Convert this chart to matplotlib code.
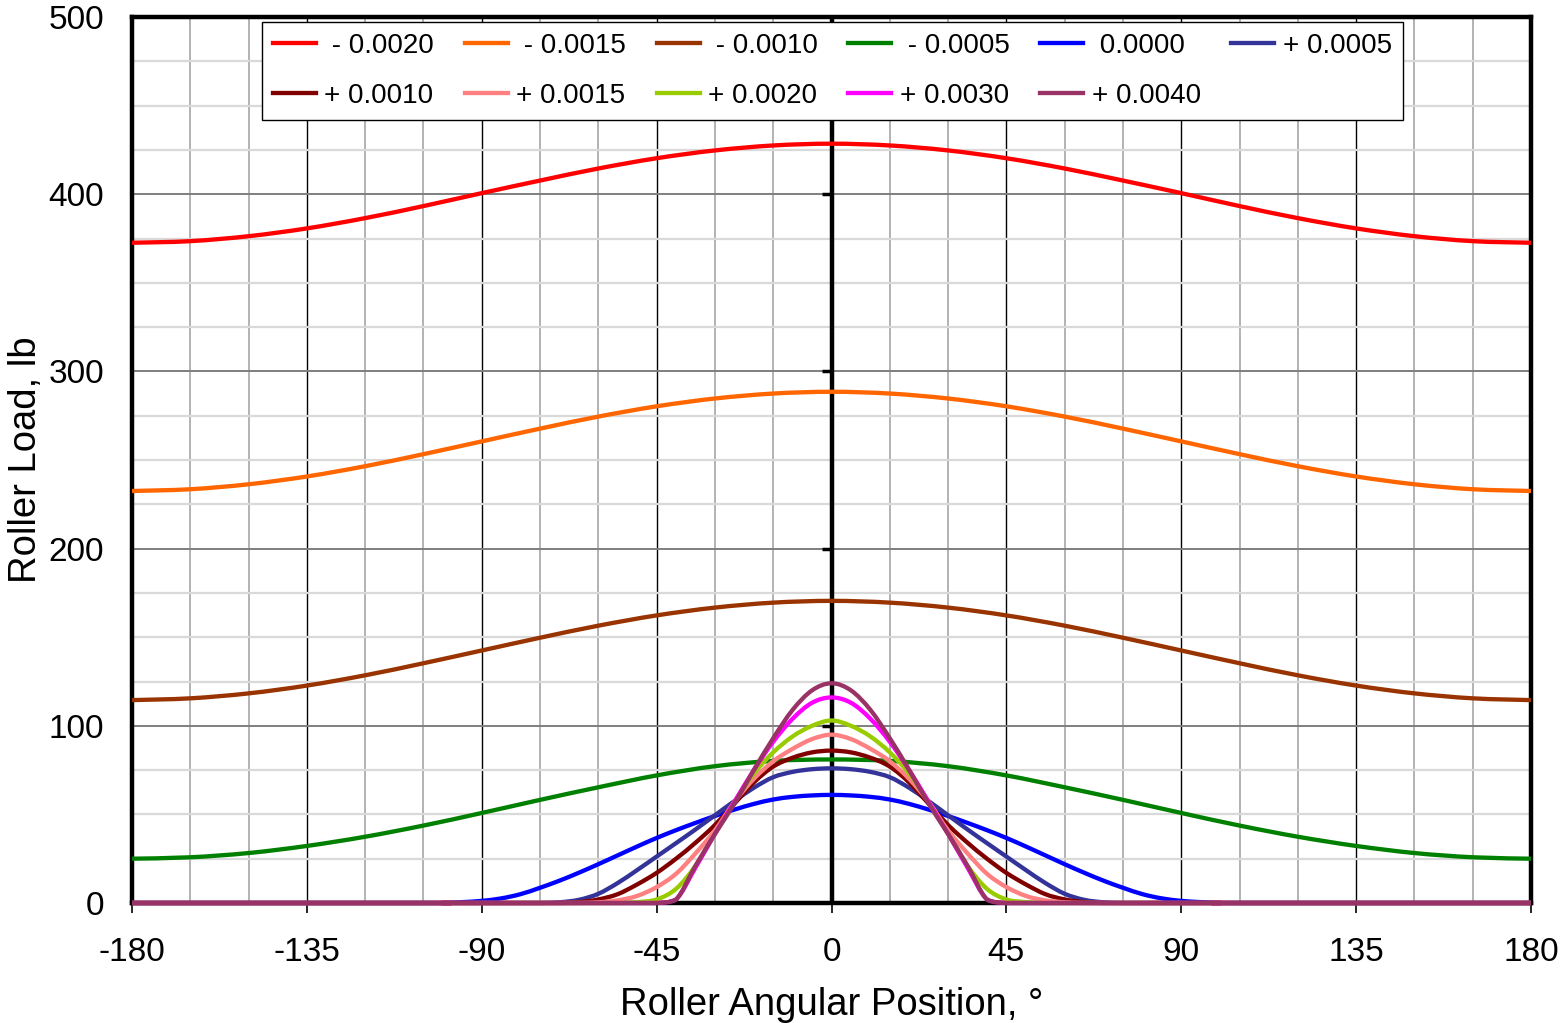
import numpy as np
import matplotlib
matplotlib.use("Agg")
import matplotlib.pyplot as plt
from matplotlib.ticker import MultipleLocator
from matplotlib.path import Path
from matplotlib.patches import PathPatch
from matplotlib.lines import Line2D

plt.rcParams["font.family"] = ["Liberation Sans", "DejaVu Sans"]
plt.rcParams["axes.unicode_minus"] = False

# half profiles (0..180 deg), the chart is symmetric about 0
WIDE_DEG = [0, 15, 30, 45, 60, 75, 90, 105, 120, 135, 150, 165, 180]
NARROW_DEG = [0, 5, 10, 15, 20, 25, 30, 35, 40, 45, 50, 55, 60, 65, 70,
              75, 80, 85, 90, 95, 100, 105, 180]

load_m0020 = [428.5, 427.5, 424.7, 420.3, 414.5, 407.7, 400.6, 393.3, 386.5, 380.7, 376.3, 373.5, 372.6]
load_m0015 = [288.5, 287.5, 284.7, 280.3, 274.5, 267.7, 260.5, 253.3, 246.5, 240.7, 236.3, 233.5, 232.5]
load_m0010 = [170.5, 169.5, 166.7, 162.3, 156.5, 149.7, 142.5, 135.3, 128.5, 122.7, 118.3, 115.5, 114.5]
load_m0005 = [81, 80.2, 77.2, 72, 65.3, 58.2, 50.8, 43.7, 37.4, 32.2, 28.2, 25.8, 25]

load_0000 = [61, 60.7, 59.9, 58.4, 55.9, 52.7, 49.1, 45.2, 41.1, 36.7, 31.9, 26.9, 21.9, 17.1, 12.6,
             8.6, 5, 2.6, 1.2, 0.5, 0.1, 0, 0]
load_p0005 = [76, 75.5, 74, 71, 65, 57.5, 49.5, 41.5, 33.8, 26.2, 18.6, 11.3, 5.2, 1.8, 0.4,
              0, 0, 0, 0, 0, 0, 0, 0]
load_p0010 = [86, 85, 82, 77, 68, 56, 44, 34, 25, 17, 10.5, 5, 2, 0.5, 0,
              0, 0, 0, 0, 0, 0, 0, 0]
load_p0015 = [95, 92.5, 87, 80, 70, 57, 41, 28, 16.5, 9, 4, 1.5, 0.4, 0, 0,
              0, 0, 0, 0, 0, 0, 0, 0]
load_p0020 = [103, 100, 94, 85, 73, 57, 39, 21, 8, 2, 0.5, 0, 0, 0, 0,
              0, 0, 0, 0, 0, 0, 0, 0]
load_p0030 = [116, 113, 104, 91, 75, 57, 39, 20, 2, 0, 0, 0, 0, 0, 0,
              0, 0, 0, 0, 0, 0, 0, 0]
load_p0040 = [124, 120, 109, 93, 75, 56, 39, 21, 2, 0, 0, 0, 0, 0, 0,
              0, 0, 0, 0, 0, 0, 0, 0]

SERIES = [
    (" - 0.0020", WIDE_DEG, load_m0020, "#FF0000"),
    (" - 0.0015", WIDE_DEG, load_m0015, "#FF6600"),
    (" - 0.0010", WIDE_DEG, load_m0010, "#993300"),
    (" - 0.0005", WIDE_DEG, load_m0005, "#008000"),
    (" 0.0000", NARROW_DEG, load_0000, "#0000FF"),
    ("+ 0.0005", NARROW_DEG, load_p0005, "#333399"),
    ("+ 0.0010", NARROW_DEG, load_p0010, "#800000"),
    ("+ 0.0015", NARROW_DEG, load_p0015, "#FF8080"),
    ("+ 0.0020", NARROW_DEG, load_p0020, "#99CC00"),
    ("+ 0.0030", NARROW_DEG, load_p0030, "#FF00FF"),
    ("+ 0.0040", NARROW_DEG, load_p0040, "#993366"),
]

X_TICKS = [-180, -135, -90, -45, 0, 45, 90, 135, 180]
Y_TICKS = [0, 100, 200, 300, 400, 500]
LINE_W = 3.1


def mirror(deg, vals):
    xs = [-d for d in reversed(deg[1:])] + list(deg)
    ys = list(reversed(vals[1:])) + list(vals)
    return xs, ys


def smooth_path(xs, ys):
    # excel-like smoothed line: bezier segments through the data points
    pts = np.column_stack([xs, ys]).astype(float)
    n = len(pts)
    verts = [pts[0]]
    codes = [Path.MOVETO]
    for i in range(n - 1):
        p0 = pts[max(i - 1, 0)]
        p1 = pts[i]
        p2 = pts[i + 1]
        p3 = pts[min(i + 2, n - 1)]
        c1 = p1 + (p2 - p0) / 6.0
        c2 = p2 - (p3 - p1) / 6.0
        c1[1] = max(c1[1], 0)
        c2[1] = max(c2[1], 0)
        verts += [c1, c2, p2]
        codes += [Path.CURVE4] * 3
    return Path(verts, codes)


fig = plt.figure(figsize=(15.61, 10.23), dpi=100)
ax = fig.add_axes([132 / 1561, 1 - 903 / 1023, 1399 / 1561, 886 / 1023])

handles = []
for label, deg, vals, color in SERIES:
    xs, ys = mirror(deg, vals)
    patch = PathPatch(smooth_path(xs, ys), fill=False, edgecolor=color,
                      lw=LINE_W, zorder=3, clip_on=False, joinstyle="round")
    ax.add_patch(patch)
    handles.append(Line2D([], [], color=color, lw=LINE_W))

ax.set_xlim(-180, 180)
ax.set_ylim(0, 500)
ax.set_xticks(X_TICKS)
ax.set_yticks(Y_TICKS)
ax.xaxis.set_minor_locator(MultipleLocator(15))
ax.yaxis.set_minor_locator(MultipleLocator(25))

ax.set_axisbelow(True)
ax.grid(which="major", axis="x", color="black", lw=1.0)
ax.grid(which="minor", axis="x", color="#a6a6a6", lw=1.2)
ax.grid(which="major", axis="y", color="#7f7f7f", lw=1.4)
ax.grid(which="minor", axis="y", color="#d9d9d9", lw=1.6)

# central vertical axis with its small tick marks
ax.axvline(0, color="black", lw=3.2, zorder=2.6)
ax.plot([0] * 4, Y_TICKS[1:5], linestyle="none", marker=0, markersize=7,
        markeredgewidth=2.5, color="black", zorder=2.6, clip_on=False)

for side in ["left", "right", "top", "bottom"]:
    ax.spines[side].set_linewidth(3.2)
    ax.spines[side].set_zorder(2.6)

ax.tick_params(axis="x", which="major", direction="out", length=7, width=1.2,
               labelsize=24, pad=17.5)
ax.tick_params(axis="y", which="major", length=0, labelsize=24, pad=20)
ax.tick_params(which="minor", length=0)

ax.set_xlabel("Roller Angular Position, °", fontsize=27.5)
ax.set_ylabel("Roller Load, lb", fontsize=27.5)
ax.xaxis.set_label_coords(0.5, -0.095)
ax.yaxis.set_label_coords(-0.063, 0.5)

# legend entries row-wise like the original (6 columns)
order = [0, 6, 1, 7, 2, 8, 3, 9, 4, 10, 5]
leg = ax.legend([handles[i] for i in order], [SERIES[i][0] for i in order],
                ncol=6, loc="upper left", bbox_to_anchor=(0.0929, 0.9944),
                borderaxespad=0, fontsize=20, frameon=True, fancybox=False,
                edgecolor="black", framealpha=1, handlelength=1.55,
                handletextpad=0.3, columnspacing=1.1, labelspacing=0.85,
                borderpad=0.4)
leg.get_frame().set_linewidth(1.0)
leg.set_zorder(5)

fig.savefig("out.png", dpi=100)
